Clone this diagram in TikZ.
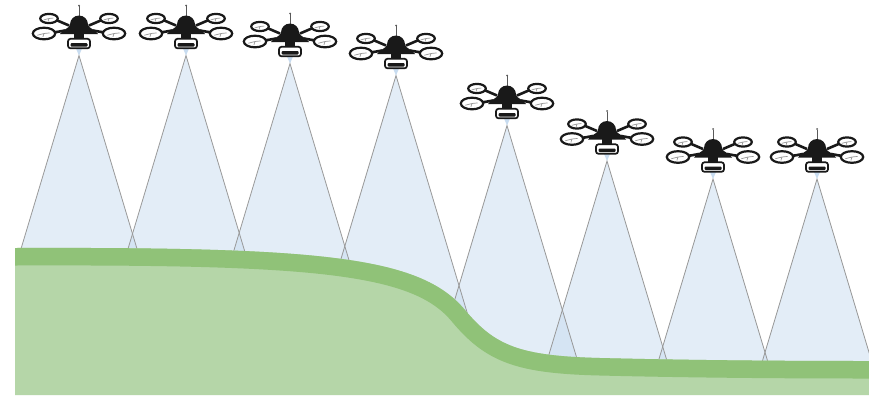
\documentclass[tikz,border=0pt]{standalone}
\usepackage{tikz}
\definecolor{fieldgreen}{HTML}{B5D6A8}
\definecolor{ridgegreen}{HTML}{90C278}
\definecolor{conefill}{HTML}{C8DCF0}
\definecolor{conegray}{HTML}{989898}
\newcommand\groundtop{(15,248) .. controls (320,247) and (420,256) .. (465,310) .. controls (495,346) and (520,356) .. (600,358) .. controls (700,360.5) and (800,361) .. (869,361)}

\tikzset{
  rotor/.style={draw=black!90, fill=white, line width=2.2pt},
  blade/.style={draw=black!40, line width=0.7pt},
  drone/.pic={
    \draw[black!90, line width=2.6pt] (-10,1) -- (-24,-5) (10,1) -- (24,-5) (-14,6) -- (-28,8.5) (14,6) -- (28,8.5);
    \foreach \rx/\ry/\a/\b in {-30/-6/8.8/4.6, 30/-6/8.8/4.6, -35/9/11.2/5.8, 35/9/11.2/5.8}
      { \filldraw[rotor] (\rx,\ry) ellipse [x radius=\a, y radius=\b];
        \draw[blade] (\rx-0.6*\a,\ry+0.3*\b) -- (\rx,\ry) -- (\rx+0.5*\a,\ry-0.1*\b)
                     (\rx,\ry) -- (\rx-0.1*\a,\ry+0.6*\b); }
    \draw[black!65, line width=0.6pt] (0,-7) -- (0,-18.5);
    \fill[black!65] (0,-19) circle (1);
    \fill[black!90] (-19,9.5) .. controls (-15,4) and (-9.5,4) .. (-9,0) arc[start angle=180, end angle=360, radius=9] .. controls (9.5,4) and (15,4) .. (19,9.5) -- cycle;
    \fill[black!90] (-5,8) rectangle (5,15);
    \fill[conefill] (-3,24) -- (3,24) -- (0,31) -- cycle;
    \filldraw[fill=white, draw=black!90, line width=1.7pt, rounded corners=2.5pt] (-11,14.3) rectangle (11,23.8);
    \fill[black!90, rounded corners=1pt] (-8.5,18.5) rectangle (8.5,22);
  }
}

\begin{document}
\begin{tikzpicture}[x=1pt, y=-1pt,
    cone/.style={fill=conefill, fill opacity=0.5},
    coneedge/.style={draw=conegray, line width=0.8pt}
  ]
  \fill[white] (0,0) rectangle (869,397);
  \useasboundingbox (0,0) rectangle (869,397);

  \begin{scope}
    \clip (15,0) rectangle (869,390);
    \foreach \x/\y in {79/24.5, 186/24.5, 290/32.5, 396/44.5, 507/94.5, 607/130, 713/148, 817/148}
      { \fill[cone] (\x,\y+31) -- ({\x-0.3*(359-\y)},390) -- ({\x+0.3*(359-\y)},390) -- cycle; }
    \foreach \x/\y in {79/24.5, 186/24.5, 290/32.5, 396/44.5, 507/94.5, 607/130, 713/148, 817/148}
      { \draw[coneedge] ({\x-0.3*(359-\y)},390) -- (\x,\y+31) -- ({\x+0.3*(359-\y)},390); }
  \end{scope}

  \fill[fieldgreen] (15,395) -- \groundtop -- (869,395) -- cycle;
  \begin{scope}
    \clip (15,395) -- \groundtop -- (869,395) -- cycle;
    \draw[ridgegreen, line width=35pt] \groundtop;
  \end{scope}

  \foreach \x/\y in {79/24.5, 186/24.5, 290/32.5, 396/44.5, 507/94.5, 607/130, 713/148, 817/148}
    { \pic at (\x,\y) {drone}; }
\end{tikzpicture}
\end{document}
